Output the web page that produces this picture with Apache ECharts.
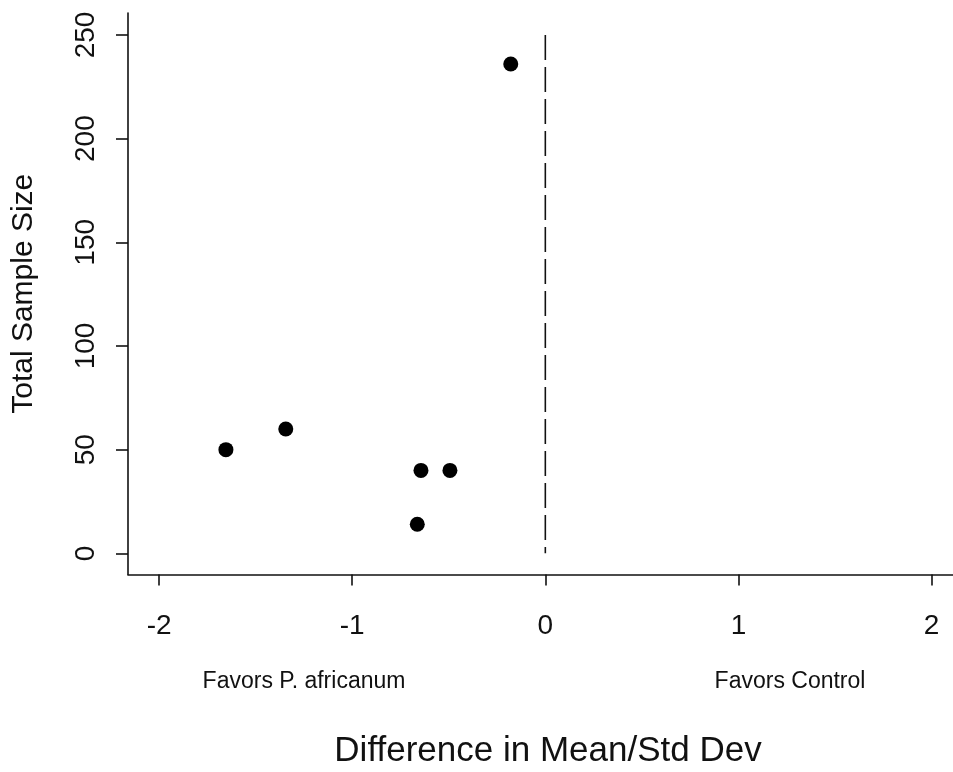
<!DOCTYPE html>
<html>
<head>
<meta charset="utf-8">
<script src="https://cdn.jsdelivr.net/npm/echarts@6/dist/echarts.min.js"></script>
<style>
  html, body { margin: 0; padding: 0; background: #fff; }
  #chart { width: 953px; height: 772px; }
</style>
</head>
<body>
<div id="chart"></div>
<script>
// Effect sizes (standardized mean difference) and total sample size per study
const effectSize = [-1.654, -1.344, -0.644, -0.494, -0.663, -0.179];
const sampleSize = [50, 60, 40, 40, 14, 236];

// Axis tick values
const xTicks = [-2, -1, 0, 1, 2];
const yTicks = [0, 50, 100, 150, 200, 250];

// Reference line of no effect, spanning the sample-size range
const refLineX = [0, 0];
const refLineY = [250, 0];

const FONT = "'Liberation Sans', Arial, Helvetica, sans-serif";
const INK = '#111';

const points = effectSize.map((x, i) => [x, sampleSize[i]]);
const refLine = refLineX.map((x, i) => [x, refLineY[i]]);

const chart = echarts.init(document.getElementById('chart'));
chart.setOption({
  backgroundColor: '#fff',
  animation: false,
  grid: { left: 128, right: 0, top: 13, bottom: 197.5 },
  xAxis: {
    type: 'value',
    min: -2.161,
    max: 2.111,
    splitLine: { show: false },
    axisLine: { onZero: false, lineStyle: { color: INK, width: 1.6 } },
    axisTick: { customValues: xTicks, length: 11, lineStyle: { color: INK, width: 1.6 } },
    axisLabel: {
      customValues: xTicks,
      margin: 38,
      color: INK,
      fontFamily: FONT,
      fontSize: 28
    }
  },
  yAxis: {
    type: 'value',
    min: -10.2,
    max: 260.6,
    name: 'Total Sample Size',
    nameLocation: 'middle',
    nameRotate: 90,
    nameGap: 89,
    nameTextStyle: { color: INK, fontFamily: FONT, fontSize: 30 },
    splitLine: { show: false },
    axisLine: { onZero: false, lineStyle: { color: INK, width: 1.6 } },
    axisTick: { customValues: yTicks, length: 12, lineStyle: { color: INK, width: 1.6 } },
    axisLabel: {
      customValues: yTicks,
      rotate: 90,
      margin: 28,
      color: INK,
      fontFamily: FONT,
      fontSize: 28
    }
  },
  series: [
    {
      type: 'line',
      data: refLine,
      symbol: 'none',
      silent: true,
      lineStyle: { color: INK, width: 1.6, type: [25, 7] }
    },
    {
      type: 'scatter',
      data: points,
      symbol: 'circle',
      symbolSize: 15,
      itemStyle: { color: '#000', opacity: 1 }
    }
  ],
  graphic: [
    {
      type: 'text',
      x: 304, y: 681.5,
      style: {
        text: 'Favors P. africanum',
        fill: INK, font: '23px ' + FONT,
        textAlign: 'center', textVerticalAlign: 'middle'
      }
    },
    {
      type: 'text',
      x: 790, y: 681.5,
      style: {
        text: 'Favors Control',
        fill: INK, font: '23px ' + FONT,
        textAlign: 'center', textVerticalAlign: 'middle'
      }
    },
    {
      type: 'text',
      x: 548, y: 751,
      style: {
        text: 'Difference in Mean/Std Dev',
        fill: INK, font: '35px ' + FONT,
        textAlign: 'center', textVerticalAlign: 'middle'
      }
    }
  ]
});
</script>
</body>
</html>
